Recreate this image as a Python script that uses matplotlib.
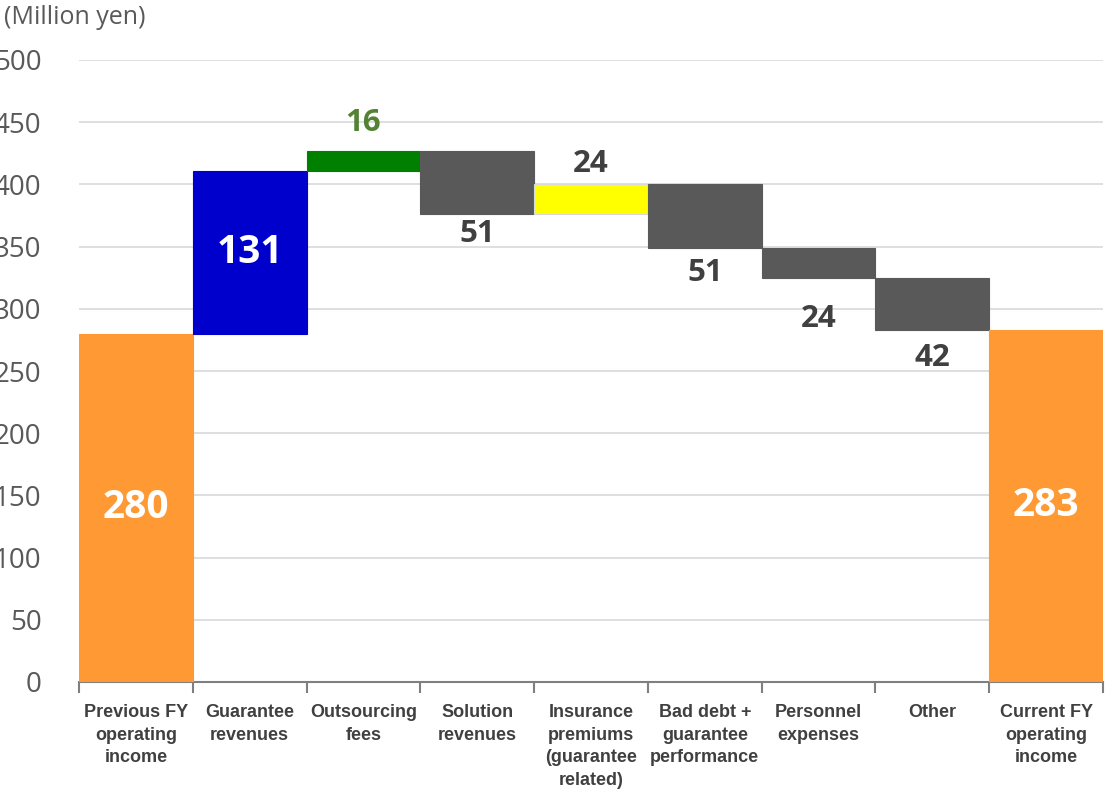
import matplotlib.pyplot as plt
import numpy as np

# Operating income bridge, previous FY -> current FY (million yen)
categories = [
    "Previous FY\noperating\nincome",
    "Guarantee\nrevenues",
    "Outsourcing\nfees",
    "Solution\nrevenues",
    "Insurance\npremiums\n(guarantee\nrelated)",
    "Bad debt +\nguarantee\nperformance",
    "Personnel\nexpenses",
    "Other",
    "Current FY\noperating\nincome",
]
start_value = 280
changes = [131, 16, -51, 24, -51, -24, -42]
end_value = 283
y_ticks = list(range(0, 501, 50))

bar_colors = ["#FF9933", "#0000CC", "#008000", "#595959", "#FFFF00",
              "#595959", "#595959", "#595959", "#FF9933"]
label_colors = ["white", "white", "#548235", "#404040", "#404040",
                "#404040", "#404040", "#404040", "white"]
# vertical offset (points) of the change labels from the bar end
label_offsets = [0, 0, 20, 14, 15, 18, 30, 20, 0]

# bottoms and heights for the floating bars
bottoms = [0]
heights = [start_value]
level = start_value
for c in changes:
    bottoms.append(level if c > 0 else level + c)
    heights.append(abs(c))
    level += c
bottoms.append(0)
heights.append(end_value)
values = [start_value] + changes + [end_value]

fig = plt.figure(figsize=(11.05, 7.92), dpi=100)
ax = fig.add_axes([79 / 1105, 1 - 682 / 792, 1024 / 1105, 622 / 792])

x = np.arange(len(categories))
edge = ["#D9D9D9" if c == "#FFFF00" else c for c in bar_colors]
ax.bar(x, heights, bottom=bottoms, width=1.0, color=bar_colors,
       edgecolor=edge, linewidth=0.8, zorder=3)

for i, (b, h, v) in enumerate(zip(bottoms, heights, values)):
    if i in (0, 1, len(values) - 1):
        # totals and the big increase: label inside the bar
        ax.text(x[i], b + h / 2, f"{abs(v)}", ha="center", va="center",
                fontsize=28, fontweight="bold", family="Open Sans",
                color=label_colors[i], zorder=4)
    elif v > 0:
        ax.annotate(f"{abs(v)}", (x[i], b + h), xytext=(0, label_offsets[i]),
                    textcoords="offset points", ha="center", va="center",
                    fontsize=22.5, fontweight="bold", family="Open Sans",
                    color=label_colors[i], zorder=4)
    else:
        ax.annotate(f"{abs(v)}", (x[i], b), xytext=(0, -label_offsets[i]),
                    textcoords="offset points", ha="center", va="center",
                    fontsize=22.5, fontweight="bold", family="Open Sans",
                    color=label_colors[i], zorder=4)

ax.set_xlim(-0.5, len(categories) - 0.5)
ax.set_ylim(0, 500)
ax.set_yticks(y_ticks)
ax.set_yticklabels([str(t) for t in y_ticks], family="Open Sans",
                   fontsize=20, color="#595959")
ax.tick_params(axis="y", length=0, pad=27)
ax.yaxis.grid(True, color="#D9D9D9", linewidth=1.2, zorder=0)
ax.set_axisbelow(True)

# category labels, tick marks on the category boundaries
ax.set_xticks(x)
ax.set_xticklabels(categories, family="Liberation Sans", fontweight="bold",
                   fontsize=13, color="#404040", linespacing=1.42, va="top")
ax.tick_params(axis="x", which="major", length=0, pad=16)
ax.set_xticks(np.arange(-0.5, len(categories)), minor=True)
ax.tick_params(axis="x", which="minor", length=8, width=1.5,
               color="#7F7F7F", direction="out")

for side in ["top", "right", "left"]:
    ax.spines[side].set_visible(False)
ax.spines["bottom"].set_color("#7F7F7F")
ax.spines["bottom"].set_linewidth(1.5)
ax.spines["bottom"].set_zorder(2)

fig.text(4 / 1105, 1 - 18 / 792, "(Million yen)", family="Open Sans",
         fontsize=18, color="#595959", ha="left", va="center")

fig.savefig("out.png", dpi=100)
